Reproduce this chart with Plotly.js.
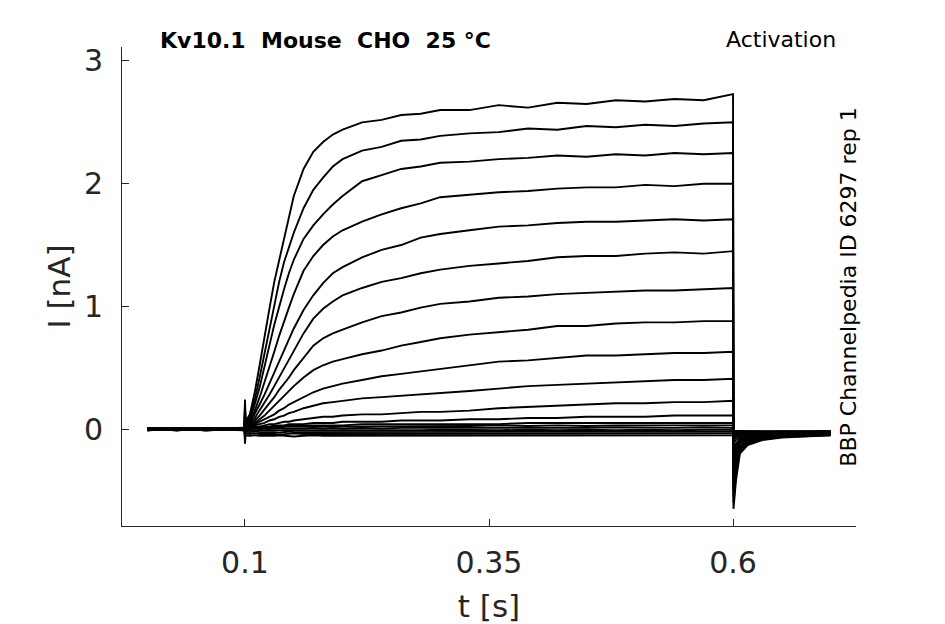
<!DOCTYPE html>
<html>
<head>
<meta charset="utf-8">
<script src="https://cdn.plot.ly/plotly-3.0.1.min.js"></script>
<style>
  html, body { margin: 0; padding: 0; background: #fff; }
  #chart { width: 945px; height: 624px; }
</style>
</head>
<body>
<div id="chart"></div>
<script>
// time base (s), shared by all sweeps
const t = [0, 0.03, 0.06, 0.0995, 0.1, 0.1005,
  0.105, 0.11, 0.115, 0.12, 0.125, 0.13, 0.135, 0.14, 0.145, 0.15,
  0.16, 0.17, 0.18, 0.19, 0.2,
  0.22, 0.24, 0.26, 0.28, 0.3,
  0.33, 0.36, 0.39, 0.42, 0.45, 0.48, 0.51, 0.54, 0.57, 0.6,
  0.6005, 0.603, 0.607, 0.615, 0.63, 0.65, 0.7];

// current sweeps (nA), largest step first
const I1 = [0.01, -0.01, 0.01, 0, 0.24, 0.06,
  0.12, 0.3, 0.52, 0.76, 0.98, 1.2, 1.38, 1.56, 1.74, 1.9,
  2.12, 2.26, 2.34, 2.4, 2.44,
  2.5, 2.52, 2.56, 2.57, 2.6,
  2.6, 2.64, 2.62, 2.66, 2.65, 2.68, 2.67, 2.69, 2.68, 2.73,
  -0.65, -0.42, -0.2, -0.13, -0.09, -0.07, -0.05];
const I2 = [-0.01, 0.01, 0, 0.01, 0.22, 0.05,
  0.1, 0.24, 0.42, 0.62, 0.82, 1.02, 1.2, 1.36, 1.49, 1.6,
  1.8, 1.95, 2.05, 2.14, 2.2,
  2.27, 2.3, 2.35, 2.36, 2.39,
  2.41, 2.42, 2.45, 2.44, 2.47, 2.46, 2.48, 2.47, 2.49, 2.5,
  -0.6, -0.38, -0.19, -0.12, -0.085, -0.065, -0.05];
const I3 = [0, 0.01, -0.01, 0, 0.2, 0.04,
  0.08, 0.2, 0.34, 0.5, 0.68, 0.85, 1.0, 1.14, 1.27, 1.38,
  1.55, 1.66, 1.75, 1.83, 1.9,
  2.02, 2.07, 2.12, 2.14, 2.17,
  2.18, 2.2, 2.21, 2.23, 2.22, 2.24, 2.23, 2.25, 2.24, 2.25,
  -0.55, -0.35, -0.18, -0.11, -0.08, -0.06, -0.045];
const I4 = [0.01, 0, 0.01, -0.01, 0.18, 0.04,
  0.06, 0.15, 0.26, 0.38, 0.5, 0.63, 0.76, 0.88, 0.99, 1.1,
  1.29, 1.41, 1.5, 1.57, 1.62,
  1.69, 1.75, 1.8, 1.84, 1.89,
  1.91, 1.93, 1.94, 1.96, 1.97, 1.97, 1.99, 1.98, 2.0, 2.0,
  -0.5, -0.32, -0.17, -0.1, -0.075, -0.055, -0.04];
const I5 = [0, -0.01, 0, 0.01, 0.16, 0.03,
  0.05, 0.12, 0.2, 0.28, 0.37, 0.46, 0.55, 0.64, 0.73, 0.82,
  0.97, 1.09, 1.19, 1.27, 1.32,
  1.4, 1.46, 1.5, 1.56, 1.59,
  1.62, 1.65, 1.66, 1.68, 1.69, 1.69, 1.7, 1.71, 1.7, 1.71,
  -0.45, -0.29, -0.15, -0.095, -0.07, -0.05, -0.04];
const I6 = [0.01, 0, -0.01, 0, 0.14, 0.03,
  0.04, 0.09, 0.15, 0.21, 0.28, 0.35, 0.42, 0.5, 0.57, 0.64,
  0.78, 0.9, 0.98, 1.04, 1.09,
  1.15, 1.2, 1.23, 1.27, 1.3,
  1.33, 1.35, 1.37, 1.4, 1.41, 1.41, 1.43, 1.44, 1.43, 1.45,
  -0.4, -0.26, -0.14, -0.09, -0.065, -0.05, -0.035];
const I7 = [-0.01, 0, 0.01, 0, 0.12, 0.03,
  0.03, 0.07, 0.11, 0.16, 0.21, 0.26, 0.32, 0.37, 0.42, 0.48,
  0.58, 0.68, 0.74, 0.78, 0.81,
  0.87, 0.92, 0.95, 0.99, 1.02,
  1.04, 1.07, 1.08, 1.1, 1.11, 1.12, 1.13, 1.13, 1.14, 1.15,
  -0.35, -0.23, -0.12, -0.08, -0.06, -0.045, -0.035];
const I8 = [0, 0.01, 0, -0.01, 0.1, 0.02,
  0.02, 0.05, 0.08, 0.11, 0.15, 0.19, 0.23, 0.27, 0.31, 0.35,
  0.42, 0.48, 0.52, 0.55, 0.57,
  0.61, 0.64, 0.68, 0.71, 0.74,
  0.77, 0.79, 0.81, 0.84, 0.84, 0.86, 0.87, 0.87, 0.88, 0.88,
  -0.3, -0.2, -0.11, -0.07, -0.055, -0.04, -0.03];
const I9 = [0.01, -0.01, 0, 0, 0.08, 0.02,
  0.02, 0.04, 0.06, 0.08, 0.1, 0.12, 0.15, 0.17, 0.2, 0.22,
  0.26, 0.3, 0.33, 0.35, 0.37,
  0.4, 0.43, 0.45, 0.47, 0.49,
  0.52, 0.55, 0.56, 0.58, 0.6, 0.6, 0.61, 0.62, 0.62, 0.63,
  -0.25, -0.17, -0.1, -0.065, -0.05, -0.04, -0.03];
const I10 = [0, 0, 0.01, 0, 0.06, 0.02,
  0.01, 0.03, 0.04, 0.05, 0.07, 0.08, 0.1, 0.11, 0.13, 0.14,
  0.17, 0.19, 0.21, 0.22, 0.23,
  0.25, 0.26, 0.27, 0.28, 0.29,
  0.31, 0.33, 0.35, 0.36, 0.37, 0.38, 0.39, 0.4, 0.4, 0.41,
  -0.2, -0.14, -0.09, -0.06, -0.045, -0.035, -0.03];
const I11 = [-0.01, 0.01, 0, 0, 0.05, 0.01,
  0.01, 0.02, 0.02, 0.03, 0.04, 0.04, 0.05, 0.06, 0.06, 0.07,
  0.08, 0.09, 0.1, 0.1, 0.11,
  0.12, 0.12, 0.13, 0.14, 0.14,
  0.15, 0.17, 0.18, 0.19, 0.2, 0.21, 0.21, 0.22, 0.22, 0.23,
  -0.16, -0.12, -0.08, -0.055, -0.04, -0.035, -0.025];
const I12 = [0, 0, -0.01, 0.01, 0.04, 0.01,
  0.01, 0.01, 0.02, 0.02, 0.02, 0.03, 0.03, 0.03, 0.04, 0.04,
  0.04, 0.05, 0.05, 0.05, 0.06,
  0.06, 0.06, 0.07, 0.07, 0.07,
  0.08, 0.08, 0.09, 0.09, 0.1, 0.1, 0.1, 0.11, 0.11, 0.11,
  -0.12, -0.09, -0.065, -0.05, -0.04, -0.03, -0.025];
const I13 = [0.01, 0, 0, 0, 0.03, 0.01,
  0.01, 0.01, 0.01, 0.02, 0.02, 0.02, 0.02, 0.02, 0.03, 0.03,
  0.03, 0.03, 0.03, 0.03, 0.03,
  0.04, 0.04, 0.04, 0.04, 0.04,
  0.04, 0.04, 0.05, 0.05, 0.05, 0.05, 0.05, 0.05, 0.05, 0.05,
  -0.09, -0.07, -0.055, -0.045, -0.035, -0.03, -0.025];
const I14 = [0, 0.01, 0, -0.01, 0.02, 0.01,
  0.01, 0.01, 0.01, 0.01, 0.01, 0.02, 0.01, 0.02, 0.02, 0.02,
  0.02, 0.02, 0.02, 0.02, 0.02,
  0.02, 0.025, 0.02, 0.025, 0.025,
  0.025, 0.03, 0.025, 0.03, 0.025, 0.03, 0.03, 0.025, 0.03, 0.03,
  -0.07, -0.055, -0.045, -0.04, -0.03, -0.03, -0.02];
const I15 = [0, -0.01, 0.01, 0, -0.03, 0,
  0, 0.005, 0, 0.005, 0, 0.005, 0.01, 0.005, 0.005, 0,
  0.005, 0.01, 0.005, 0.01, 0.005,
  0.01, 0.005, 0.01, 0.01, 0.005,
  0.01, 0.01, 0.005, 0.01, 0.01, 0.015, 0.01, 0.01, 0.015, 0.01,
  -0.05, -0.045, -0.04, -0.035, -0.03, -0.025, -0.02];
const I16 = [0.01, 0, 0, 0.01, -0.05, -0.01,
  -0.01, -0.01, -0.015, -0.01, -0.01, -0.015, -0.01, -0.01, -0.015, -0.01,
  -0.01, -0.015, -0.01, -0.01, -0.01,
  -0.01, -0.015, -0.01, -0.01, -0.005,
  -0.01, -0.01, -0.005, -0.01, -0.005, -0.01, -0.005, -0.01, -0.005, -0.005,
  -0.04, -0.035, -0.035, -0.03, -0.03, -0.025, -0.02];
const I17 = [0, 0, -0.01, 0, -0.07, -0.02,
  -0.025, -0.02, -0.025, -0.025, -0.02, -0.025, -0.03, -0.025, -0.02, -0.025,
  -0.025, -0.02, -0.025, -0.025, -0.02,
  -0.025, -0.02, -0.025, -0.02, -0.025,
  -0.02, -0.025, -0.02, -0.02, -0.025, -0.02, -0.02, -0.025, -0.02, -0.02,
  -0.03, -0.03, -0.03, -0.025, -0.025, -0.02, -0.02];
const I18 = [-0.01, 0, 0, 0, -0.09, -0.035,
  -0.04, -0.035, -0.04, -0.04, -0.035, -0.04, -0.045, -0.04, -0.04, -0.035,
  -0.04, -0.04, -0.035, -0.04, -0.04,
  -0.035, -0.04, -0.04, -0.035, -0.04,
  -0.04, -0.035, -0.04, -0.035, -0.04, -0.035, -0.035, -0.04, -0.035, -0.035,
  -0.02, -0.02, -0.025, -0.02, -0.025, -0.02, -0.02];
const I19 = [0, 0.01, 0, 0, -0.12, -0.05,
  -0.055, -0.05, -0.055, -0.055, -0.06, -0.055, -0.05, -0.055, -0.055, -0.06,
  -0.055, -0.05, -0.055, -0.055, -0.05,
  -0.055, -0.05, -0.055, -0.05, -0.055,
  -0.05, -0.055, -0.05, -0.05, -0.055, -0.05, -0.05, -0.055, -0.05, -0.05,
  -0.015, -0.015, -0.02, -0.02, -0.02, -0.02, -0.02];

const sweeps = [I1, I2, I3, I4, I5, I6, I7, I8, I9, I10,
  I11, I12, I13, I14, I15, I16, I17, I18, I19];

const xTicks = [0.1, 0.35, 0.6];
const xTickText = ['0.1', '0.35', '0.6'];
const yTicks = [0, 1, 2, 3];

const axisColor = '#262626';
const font = 'DejaVu Sans';

// draw from the smallest sweep up so the big ones sit on top
const data = sweeps.slice().reverse().map(function (I) {
  return {
    type: 'scatter',
    mode: 'lines',
    x: t,
    y: I,
    line: { color: '#000', width: 1.9 },
    hoverinfo: 'skip',
    showlegend: false
  };
});

const layout = {
  width: 945,
  height: 624,
  margin: { l: 122, r: 89, t: 47, b: 98 },
  paper_bgcolor: '#fff',
  plot_bgcolor: '#fff',
  font: { family: font, color: axisColor },
  showlegend: false,
  xaxis: {
    range: [-0.026, 0.726],
    tickvals: xTicks,
    ticktext: xTickText,
    ticks: 'inside',
    ticklen: 7,
    tickcolor: axisColor,
    tickfont: { size: 30, color: axisColor },
    ticklabelstandoff: 10,
    showline: true,
    linecolor: axisColor,
    linewidth: 1,
    showgrid: false,
    zeroline: false,
    title: { text: 't [s]', font: { size: 31, color: axisColor }, standoff: 18 }
  },
  yaxis: {
    range: [-0.79, 3.114],
    tickvals: yTicks,
    ticks: 'inside',
    ticklen: 7,
    tickcolor: axisColor,
    tickfont: { size: 30, color: axisColor },
    ticklabelstandoff: 12,
    showline: true,
    linecolor: axisColor,
    linewidth: 1,
    showgrid: false,
    zeroline: false,
    title: { text: 'I [nA]', font: { size: 31, color: axisColor }, standoff: 4 }
  },
  annotations: [
    {
      text: '<b>Kv10.1\u00A0\u00A0Mouse\u00A0\u00A0CHO\u00A0\u00A025 °C</b>',
      xref: 'paper', yref: 'paper',
      x: 0.049, y: 1.0146, xanchor: 'left', yanchor: 'middle',
      showarrow: false,
      font: { size: 22, color: '#000' }
    },
    {
      text: 'Activation',
      xref: 'paper', yref: 'paper',
      x: 0.9755, y: 1.0167, xanchor: 'right', yanchor: 'middle',
      showarrow: false,
      font: { size: 22, color: '#000' }
    },
    {
      text: 'BBP Channelpedia ID 6297 rep 1',
      xref: 'paper', yref: 'paper',
      x: 0.99, y: 0.499, xanchor: 'center', yanchor: 'middle',
      textangle: -90,
      showarrow: false,
      font: { size: 22, color: '#000' }
    }
  ]
};

Plotly.newPlot('chart', data, layout, { displayModeBar: false, staticPlot: true });
</script>
</body>
</html>
